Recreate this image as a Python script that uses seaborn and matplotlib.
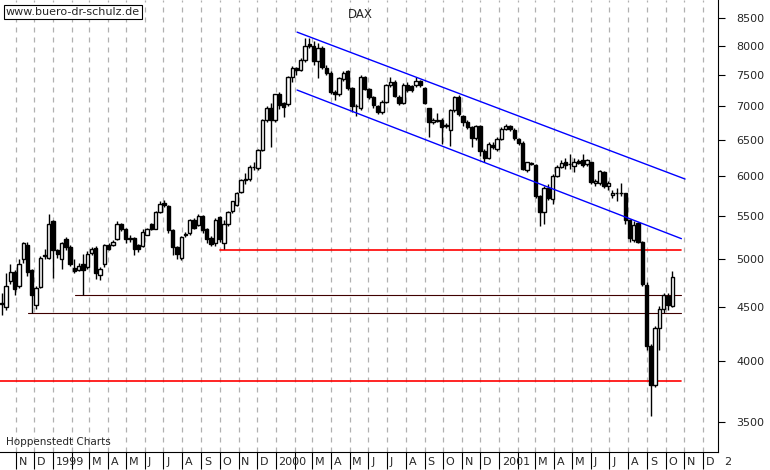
import numpy as np
import pandas as pd
import matplotlib
matplotlib.use("Agg")
import matplotlib.pyplot as plt
import matplotlib.dates as mdates
from matplotlib.ticker import FixedLocator, NullLocator, FixedFormatter
import seaborn as sns

start_date = "1998-10-09"
opens = [4530,4500,4770,4860,4720,5000,5160,4880,4520,4710,5040,5010,5440,5100,5000,5230,5140,4910,4890,4950,
         4920,5070,5130,4830,4950,5160,5160,5230,5410,5350,5230,5240,5160,5150,5280,5410,5350,5550,5660,5620,
         5330,5140,5020,5270,5300,5450,5390,5500,5350,5240,5180,5490,5180,5400,5560,5640,5800,5950,5970,6130,
         6110,6360,6790,6970,6790,7190,7050,7040,7470,7620,7590,7750,8020,8000,7730,7950,7620,7540,7230,7190,
         7440,7560,7290,7000,6970,7470,7270,7150,7000,6910,7070,7340,7390,7150,7050,7340,7320,7340,7400,7290,
         6970,6770,6780,6790,6700,6650,6940,7150,6850,6760,6690,6530,6700,6350,6250,6430,6370,6520,6660,6710,
         6650,6520,6460,6090,6170,6150,5750,5550,5850,5710,6010,6130,6190,6160,6140,6210,6220,6160,6190,5920,
         5910,6060,5870,5760,5780,5780,5780,5450,5220,5420,5200,4730,4130,3790,4300,4480,4610,4510]
closes = [4530,4720,4860,4680,4950,5180,4860,4620,4690,5010,5050,5410,5100,5060,5180,5140,4950,4870,4930,4890,
          5060,5120,4850,4900,5160,5120,5200,5400,5340,5230,5240,5110,5110,5310,5340,5350,5550,5650,5630,5330,
          5140,5060,5250,5290,5450,5360,5500,5330,5230,5170,5450,5230,5400,5550,5680,5780,5950,5970,6130,6120,
          6360,6790,6970,6790,7190,7020,6990,7470,7620,7580,7750,8000,8000,7730,7960,7640,7540,7230,7200,7450,
          7540,7290,7000,7010,7470,7270,7150,7020,6910,7070,7340,7390,7160,7050,7340,7250,7250,7400,7330,7050,
          6760,6790,6790,6690,6720,6940,7150,6890,6760,6690,6530,6700,6350,6250,6450,6400,6520,6660,6710,6660,
          6530,6460,6100,6190,6170,5750,5550,5850,5720,6010,6130,6180,6150,6170,6190,6180,6150,6220,5930,5940,
          6070,5870,5920,5790,5780,5780,5450,5240,5390,5200,4740,4130,3790,4300,4480,4620,4520,4810]
highs = [4640,4850,4950,4890,5000,5190,5190,4900,4720,5040,5120,5530,5450,5120,5200,5250,5160,5000,4960,5060,
         5090,5140,5150,4920,5170,5180,5220,5440,5420,5360,5270,5250,5170,5340,5360,5420,5560,5680,5700,5640,
         5350,5150,5260,5310,5460,5480,5520,5510,5360,5260,5480,5500,5450,5560,5690,5800,5970,6050,6150,6200,
         6380,6810,7000,7050,7200,7230,7070,7480,7650,7640,7780,8130,8140,8080,8050,8000,7660,7560,7260,7470,
         7560,7580,7300,7040,7500,7480,7290,7160,7020,7100,7360,7470,7420,7170,7370,7380,7340,7470,7420,7310,
         6980,6830,6900,6820,6750,6960,7160,7180,6870,6790,6700,6720,6720,6380,6470,6470,6550,6690,6730,6720,
         6670,6530,6480,6200,6190,6160,5760,5870,5900,6030,6150,6220,6250,6300,6250,6240,6300,6240,6200,5960,
         6090,6070,5940,5820,5850,5920,5790,5460,5440,5430,5210,4760,4150,4320,4510,4640,4640,4870]
lows = [4420,4470,4740,4620,4700,4960,4820,4445,4480,4700,5000,5000,4800,5020,4900,5100,4930,4850,4870,4620,
        4900,5050,4790,4780,4920,5100,5150,5220,5320,5180,5200,5050,5080,5140,5270,5330,5340,5540,5610,5300,
        5050,5000,4990,5250,5280,5340,5380,5300,5180,5150,5150,5200,5120,5380,5540,5620,5780,5900,5940,6080,
        6080,6340,6760,6400,6760,6960,6840,7000,7380,7500,7560,7720,7950,7660,7450,7600,7500,7200,7100,7160,
        7400,7260,6920,6850,6950,7250,7120,6980,6880,6890,7050,7300,7140,7020,7030,7230,7220,7300,7300,7030,
        6540,6740,6760,6450,6680,6420,6920,6860,6700,6660,6400,6500,6280,6200,6230,6380,6350,6500,6640,6630,
        6500,6430,6080,6060,6150,5720,5380,5400,5700,5650,5990,6110,6100,6100,6060,6160,6130,6140,5900,5870,
        5890,5850,5820,5720,5680,5750,5400,5200,5200,5180,4720,4100,3540,3780,4100,4440,4470,4500]

channel_upper = [("2000-02-05", 8240), ("2001-11-02", 5966)]
channel_lower = [("2000-02-05", 7255), ("2001-10-27", 5233)]
red_levels = [(5100, "1999-10-02"), (3825, "1998-10-06")]
dark_levels = [(4620, "1999-02-06"), (4445, "1998-11-21")]
level_end = "2001-10-26"
yticks = [3500, 4000, 4500, 5000, 5500, 6000, 6500, 7000, 7500, 8000, 8500]

sns.set_style("white")
plt.rcParams["font.family"] = ["DejaVu Sans"]

df = pd.DataFrame({"date": pd.date_range(start_date, periods=len(closes), freq="7D"),
                   "open": opens, "high": highs, "low": lows, "close": closes})
df["x"] = mdates.date2num(df["date"])

fig = plt.figure(figsize=(7.7, 4.7), dpi=100)
ax = fig.add_axes([0.0, 18/470, 718/770, 452/470])
ax.set_yscale("log")
x0 = mdates.date2num(pd.Timestamp("1998-10-06"))
x1 = mdates.date2num(pd.Timestamp("2001-12-26"))
ax.set_xlim(x0, x1)
ax.set_ylim(3274, 8843)

months = pd.date_range("1998-11-01", "2002-01-01", freq="MS")
mx = mdates.date2num(months)
for m in mx:
    ax.axvline(m, color="#b0b0b0", lw=0.9, ls=(0, (4, 4)), zorder=0)

w = 5.5
ax.vlines(df["x"], df["low"], df["high"], color="black", lw=1, zorder=2)
for _, r in df.iterrows():
    up = r["close"] >= r["open"]
    lo, hi = min(r["open"], r["close"]), max(r["open"], r["close"])
    if hi - lo < 10:
        hi = lo + 10
    ax.bar(r["x"], hi - lo, bottom=lo, width=w, color="white" if up else "black",
           edgecolor="black", lw=1, zorder=3)

for seg in (channel_upper, channel_lower):
    xs = mdates.date2num(pd.to_datetime([s[0] for s in seg]))
    ax.plot(xs, [s[1] for s in seg], color="blue", lw=1, zorder=4)
xe = mdates.date2num(pd.Timestamp(level_end))
for v, d in red_levels:
    ax.plot([mdates.date2num(pd.Timestamp(d)), xe], [v, v], color="red", lw=1.2, zorder=1)
for v, d in dark_levels:
    ax.plot([mdates.date2num(pd.Timestamp(d)), xe], [v, v], color="#400000", lw=0.8, zorder=1)

for s in ("top", "left"):
    ax.spines[s].set_visible(False)
ax.spines["right"].set_color("black")
ax.spines["bottom"].set_color("black")
ax.yaxis.tick_right()
ax.yaxis.set_major_locator(FixedLocator(yticks))
ax.yaxis.set_minor_locator(NullLocator())
ax.yaxis.set_major_formatter(FixedFormatter([str(t) for t in yticks]))
ax.tick_params(axis="y", direction="out", length=5, labelsize=8, pad=8, color="black", right=True)

labels = []
for d in months:
    if d.month == 1:
        labels.append(str(d.year) if d.year < 2002 else "2")
    elif d.month == 2:
        labels.append("")
    else:
        labels.append("JFMAMJJASOND"[d.month - 1])
ax.xaxis.set_major_locator(FixedLocator(mx))
ax.xaxis.set_major_formatter(FixedFormatter([""] * len(mx)))
ax.xaxis.set_minor_locator(NullLocator())
ax.tick_params(axis="x", direction="out", length=12, color="black", bottom=True)
for m, lab in zip(mx, labels):
    ax.annotate(lab, xy=(m, 0), xycoords=("data", "axes fraction"), xytext=(2, -7.5),
                textcoords="offset points", fontsize=8, ha="left", va="center", annotation_clip=False)

fig.text(6/770, 1 - 12/470, "www.buero-dr-schulz.de", fontsize=8, va="center", ha="left",
         bbox=dict(facecolor="white", edgecolor="black", lw=0.8, pad=1.5))
fig.text(360/770, 1 - 14/470, "DAX", fontsize=8.5, va="center", ha="center")
fig.text(6/770, 1 - 442/470, "Hoppenstedt Charts", fontsize=7.5, va="center", ha="left")

fig.savefig("out.png", dpi=100)
